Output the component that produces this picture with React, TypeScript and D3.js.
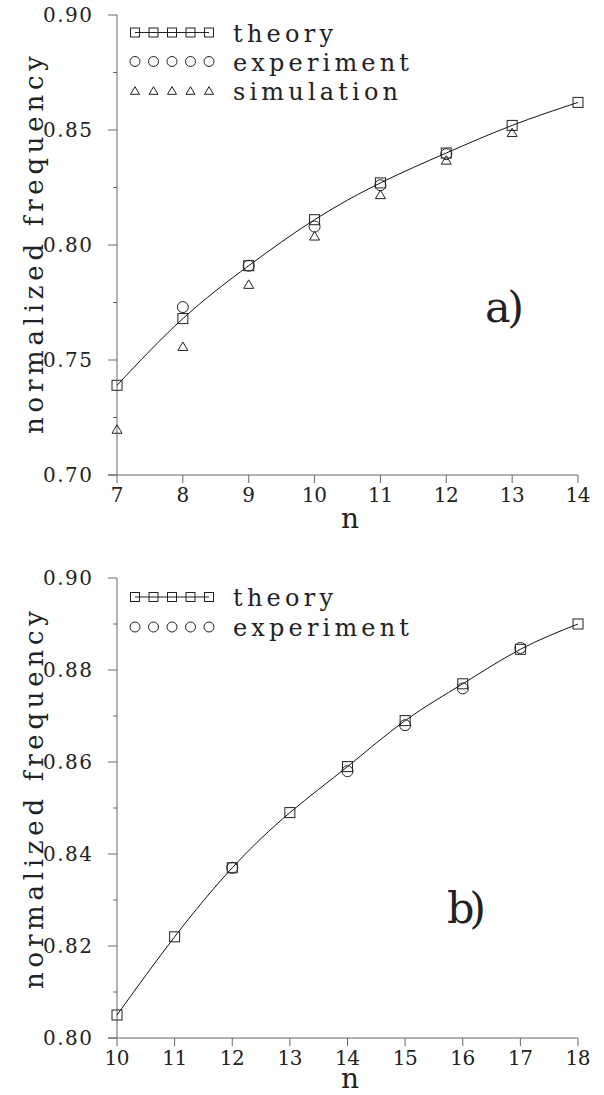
import React from "react";
import * as d3 from "d3";

// panel a)
const nA = [7, 8, 9, 10, 11, 12, 13, 14];
const theoryA = [0.739, 0.768, 0.791, 0.811, 0.827, 0.84, 0.852, 0.862];
const expNA = [8, 9, 10, 11, 12];
const experimentA = [0.773, 0.791, 0.808, 0.826, 0.8395];
const simNA = [7, 8, 9, 10, 11, 12, 13];
const simulationA = [0.72, 0.756, 0.783, 0.804, 0.822, 0.837, 0.849];
const yTicksA = [0.7, 0.75, 0.8, 0.85, 0.9];
const yMinorA = [0.725, 0.775, 0.825, 0.875];

// panel b)
const nB = [10, 11, 12, 13, 14, 15, 16, 17, 18];
const theoryB = [0.805, 0.822, 0.837, 0.849, 0.859, 0.869, 0.877, 0.8845, 0.89];
const expNB = [12, 14, 15, 16, 17];
const experimentB = [0.837, 0.858, 0.868, 0.876, 0.8848];
const yTicksB = [0.8, 0.82, 0.84, 0.86, 0.88, 0.9];
const yMinorB = [0.81, 0.83, 0.85, 0.87, 0.89];

const FONT = "DejaVu Serif, Liberation Serif, serif";
const AXIS = "#666";

type Series = { kind: "square" | "circle" | "triangle"; xs: number[]; ys: number[] };

function Marker({ kind, x, y, s }: { kind: string; x: number; y: number; s: number }) {
  if (kind === "square")
    return <rect x={x - s / 2} y={y - s / 2} width={s} height={s} fill="none" stroke="#222" strokeWidth={1} />;
  if (kind === "circle") return <circle cx={x} cy={y} r={s / 2 + 0.5} fill="none" stroke="#222" strokeWidth={1} />;
  const h = s * 0.85;
  return (
    <path
      d={`M${x - s / 2},${y + h / 2}L${x + s / 2},${y + h / 2}L${x},${y - h / 2}Z`}
      fill="none"
      stroke="#222"
      strokeWidth={1}
    />
  );
}

function Panel(props: {
  xDomain: [number, number];
  yDomain: [number, number];
  top: number;
  bottom: number;
  yTicks: number[];
  yMinor: number[];
  theoryX: number[];
  theoryY: number[];
  series: Series[];
  legend: { kind: string; label: string; len: number }[];
  legendY: number[];
  tag: string;
  tagX: number;
  tagY: number;
  labelY: number;
  nY: number;
}) {
  const left = 117;
  const right = 578;
  const x = d3.scaleLinear().domain(props.xDomain).range([left, right]);
  const y = d3.scaleLinear().domain(props.yDomain).range([props.bottom, props.top]);
  const xTicks = d3.range(props.xDomain[0], props.xDomain[1] + 1);
  const line = d3
    .line<number>()
    .x((d) => x(d))
    .y((d, i) => y(props.theoryY[i]))
    .curve(d3.curveNatural);

  const legendXs = [135, 153.5, 172, 190.5, 209];

  return (
    <g style={{ fontFamily: FONT }} fill="#222">
      {/* axes */}
      <line x1={left} x2={left} y1={props.top} y2={props.bottom} stroke={AXIS} />
      <line x1={left - 9} x2={right} y1={props.bottom} y2={props.bottom} stroke={AXIS} />
      {props.yTicks.map((t) => (
        <g key={t}>
          <line x1={left - 9} x2={left} y1={y(t)} y2={y(t)} stroke={AXIS} />
          <text x={92} y={y(t) + 7} fontSize={20} textAnchor="end" textLength={49} lengthAdjust="spacing">
            {t.toFixed(2)}
          </text>
        </g>
      ))}
      {props.yMinor.map((t) => (
        <line key={t} x1={left - 4} x2={left} y1={y(t)} y2={y(t)} stroke={AXIS} />
      ))}
      {xTicks.map((t) => (
        <g key={t}>
          <line x1={x(t)} x2={x(t)} y1={props.bottom} y2={props.bottom + 8} stroke={AXIS} />
          <text
            x={x(t)}
            y={props.bottom + 27}
            fontSize={20}
            textAnchor="middle"
            {...(t >= 10 ? { textLength: 25, lengthAdjust: "spacing" } : {})}
          >
            {t}
          </text>
        </g>
      ))}
      <text x={350} y={props.nY} fontSize={28} textAnchor="middle">
        n
      </text>
      <text
        transform={`translate(43,${props.labelY}) rotate(-90)`}
        fontSize={26}
        textAnchor="middle"
        textLength={378}
        lengthAdjust="spacing"
      >
        normalized frequency
      </text>

      {/* theory curve */}
      <path d={line(props.theoryX) ?? ""} fill="none" stroke="#111" strokeWidth={1} />
      {props.series.map((s) =>
        s.xs.map((n, i) => <Marker key={s.kind + n} kind={s.kind} x={x(n)} y={y(s.ys[i])} s={10} />)
      )}

      {/* legend */}
      {props.legend.map((l, r) => (
        <g key={l.label}>
          {l.kind === "square" && (
            <line x1={legendXs[0]} x2={legendXs[4]} y1={props.legendY[r]} y2={props.legendY[r]} stroke="#222" />
          )}
          {legendXs.map((lx) => (
            <Marker key={lx} kind={l.kind} x={lx} y={props.legendY[r]} s={9} />
          ))}
          <text
            x={233}
            y={props.legendY[r] + 9}
            fontSize={24}
            textLength={l.len}
            lengthAdjust="spacing"
          >
            {l.label}
          </text>
        </g>
      ))}

      <text x={props.tagX} y={props.tagY} fontSize={43} textLength={39} lengthAdjust="spacing">
        {props.tag}
      </text>
    </g>
  );
}

export default function App() {
  return (
    <svg
      width={604}
      height={1095}
      style={{ position: "absolute", left: 0, top: 0, background: "#fff" }}
    >
      <Panel
        xDomain={[7, 14]}
        yDomain={[0.7, 0.9]}
        top={15}
        bottom={475}
        yTicks={yTicksA}
        yMinor={yMinorA}
        theoryX={nA}
        theoryY={theoryA}
        series={[
          { kind: "square", xs: nA, ys: theoryA },
          { kind: "circle", xs: expNA, ys: experimentA },
          { kind: "triangle", xs: simNA, ys: simulationA },
        ]}
        legend={[
          { kind: "square", label: "theory", len: 100 },
          { kind: "circle", label: "experiment", len: 176 },
          { kind: "triangle", label: "simulation", len: 165 },
        ]}
        legendY={[32.5, 61.5, 90.5]}
        tag="a)"
        tagX={485}
        tagY={322}
        labelY={245}
        nY={528}
      />
      <Panel
        xDomain={[10, 18]}
        yDomain={[0.8, 0.9]}
        top={578}
        bottom={1038}
        yTicks={yTicksB}
        yMinor={yMinorB}
        theoryX={nB}
        theoryY={theoryB}
        series={[
          { kind: "square", xs: nB, ys: theoryB },
          { kind: "circle", xs: expNB, ys: experimentB },
        ]}
        legend={[
          { kind: "square", label: "theory", len: 100 },
          { kind: "circle", label: "experiment", len: 176 },
        ]}
        legendY={[597, 627]}
        tag="b)"
        tagX={447}
        tagY={923}
        labelY={800}
        nY={1088}
      />
    </svg>
  );
}
